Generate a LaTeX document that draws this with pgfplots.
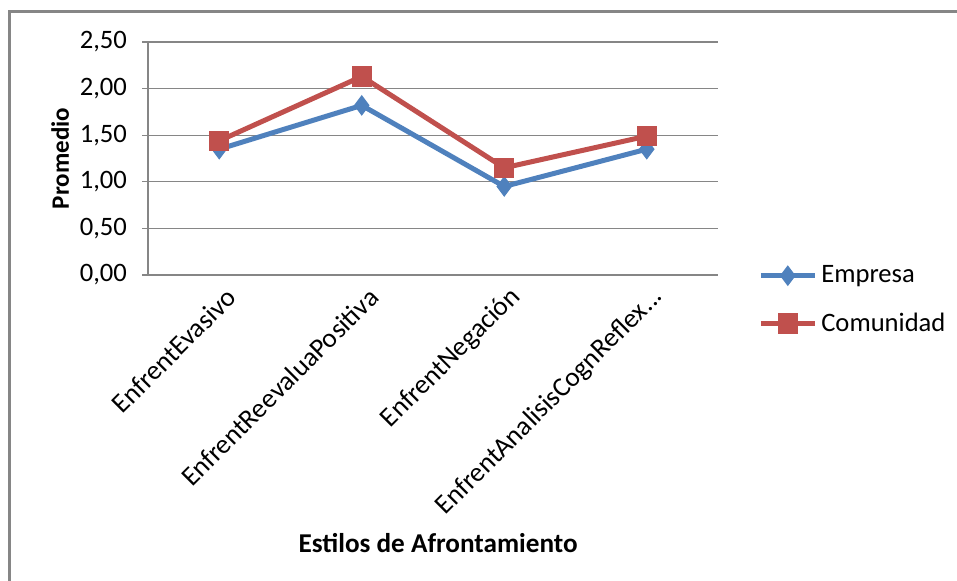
\documentclass[border=0pt]{standalone}
\usepackage{pgfplots}
\pgfplotsset{compat=1.18}
\usepackage{fontspec}
\setmainfont{Carlito}
\definecolor{serblue}{HTML}{4F81BD}
\definecolor{serred}{HTML}{C0504D}
\definecolor{gridgray}{HTML}{868686}
\begin{document}
\begin{tikzpicture}[x=0.5pt,y=0.5pt]
\path[use as bounding box] (0,0) rectangle (957,581);
\draw[gridgray,line width=1.5pt] (9,0) -- (9,569) -- (957,569);
\begin{axis}[
  at={(74pt,153pt)}, anchor=south west,
  scale only axis, width=285pt, height=116.5pt,
  xmin=-0.5, xmax=3.5, ymin=0, ymax=2.5,
  xtick={0,1,2,3},
  xticklabels={{EnfrentEvasivo},{EnfrentReevaluaPositiva},{EnfrentNegación},{EnfrentAnalisisCognReflex.{}.{}.}},
  xticklabel style={rotate=45, anchor=east, font=\fontsize{13.6}{15}\selectfont, xshift=3.5pt, yshift=-8.5pt},
  major x tick style={draw=none},
  ytick={0,0.5,1,1.5,2,2.5},
  yticklabel style={font=\fontsize{13.3}{15}\selectfont, /pgf/number format/.cd, fixed, fixed zerofill, precision=2, use comma, assume math mode=true},
  ytick style={gridgray, line width=0.6pt},
  major tick length=3pt, tick align=outside,
  ymajorgrids, grid style={gridgray, line width=0.6pt},
  axis line style={gridgray, line width=0.6pt},
  axis x line*=bottom, axis y line*=left,
  x axis line style={draw=none},
  tick label style={black},
  yticklabel shift=4pt,
  xlabel={\textbf{Estilos de Afrontamiento}},
  xlabel style={font=\fontsize{13.6}{15}\selectfont, at={(rel axis cs:0.509,-1.15)}, anchor=center},
  ylabel={\textbf{Promedio}},
  ylabel style={font=\fontsize{12.5}{14}\selectfont, at={(rel axis cs:-0.154,0.5)}, anchor=center},
  legend style={at={(rel axis cs:1.07,-0.107)}, anchor=west, draw=none, fill=none,
    font=\fontsize{13.3}{15}\selectfont, row sep=9.5pt, inner sep=0pt},
  legend cell align=left,
  legend image code/.code={\draw[mark repeat=2,mark phase=2] plot coordinates {(0pt,0pt) (13.5pt,0pt) (27pt,0pt)};},
  clip=false,
]
\addplot[serblue, line width=2.5pt, mark=diamond*, mark size=4.8pt, mark options={solid, fill=serblue, line width=0.5pt}]
  coordinates {(0,1.35) (1,1.82) (2,0.95) (3,1.35)};
\addlegendentry{Empresa}
\addplot[serred, line width=2.5pt, mark=square*, mark size=4.8pt, mark options={solid, fill=serred, line width=0.5pt}]
  coordinates {(0,1.44) (1,2.13) (2,1.15) (3,1.49)};
\addlegendentry{Comunidad}
\end{axis}
\end{tikzpicture}
\end{document}
